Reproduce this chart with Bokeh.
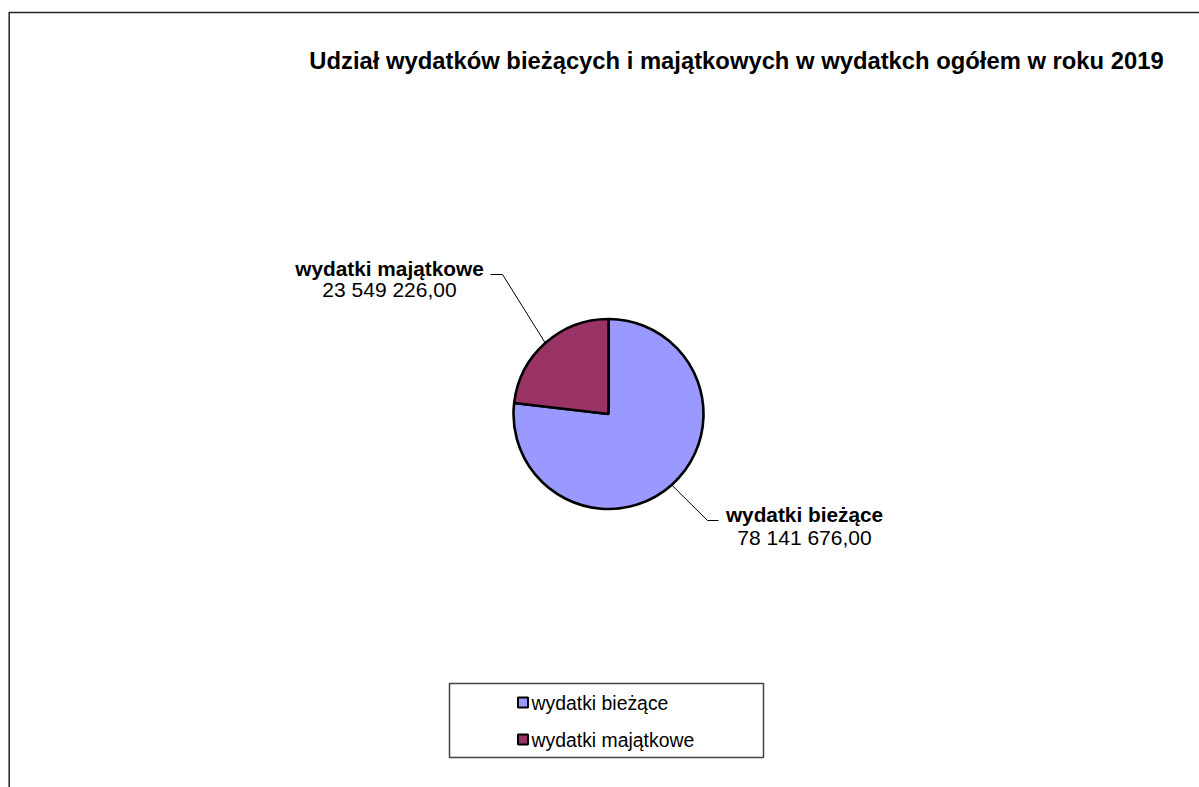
import math
from bokeh.plotting import figure
from bokeh.models import Range1d, ColumnDataSource
from bokeh.core.properties import value
from bokeh.embed import file_html
from bokeh.resources import INLINE

# ---- data ----
title_text = "Udział wydatków bieżących i majątkowych w wydatkch ogółem w roku 2019"
categories = ["wydatki bieżące", "wydatki majątkowe"]
amounts = [78141676.00, 23549226.00]
amount_labels = ["78 141 676,00", "23 549 226,00"]
colors = ["#9999FF", "#993366"]

W, H = 1199, 787
FONT = "Liberation Sans"

def X(px):
    return px

def Y(py):
    return H - py

p = figure(width=W, height=H, output_backend="svg", toolbar_location=None,
           x_range=Range1d(0, W), y_range=Range1d(0, H),
           min_border=0, outline_line_color=None)
p.axis.visible = False
p.grid.visible = False
p.background_fill_color = "white"
p.border_fill_color = "white"

# chart frame (left & top edges visible)
p.line(x=[X(8.7), X(8.7), W + 5], y=[-5, Y(12), Y(12)], line_color="#222222", line_width=1.5)

# title
p.text(x=[X(736)], y=[Y(60)], text=[title_text], text_font=value(FONT),
       text_font_style="bold", text_font_size="23.8px", text_align="center",
       text_baseline="middle", text_color="black")

# pie
cx, cy, r = X(608), Y(413.5), 95
total = sum(amounts)
starts, ends, mids = [], [], []
acc = 0.0
for a in amounts:
    s = math.pi / 2 - 2 * math.pi * acc / total
    acc += a
    e = math.pi / 2 - 2 * math.pi * acc / total
    starts.append(s)
    ends.append(e)
    mids.append((s + e) / 2)

src = ColumnDataSource(dict(cat=categories, start=starts, end=ends, color=colors))
p.wedge(x=cx, y=cy, radius=r, start_angle="start", end_angle="end", direction="clock",
        fill_color="color", line_color="black", line_width=2.6, source=src)

# leader lines and data labels
elbows = [((X(707), Y(520)), (X(718), Y(520))), ((X(502), Y(274)), (X(490), Y(274)))]
label_pos = [(X(804), Y(514), Y(537)), (X(389), Y(268), Y(289))]
for i in range(len(categories)):
    ex = cx + r * math.cos(mids[i])
    ey = cy + r * math.sin(mids[i])
    (bx, by), (tx, ty) = elbows[i]
    p.line(x=[ex, bx, tx], y=[ey, by, ty], line_color="black", line_width=1)
    lx, ly1, ly2 = label_pos[i]
    p.text(x=[lx], y=[ly1], text=[categories[i]], text_font=value(FONT),
           text_font_style="bold", text_font_size="20.8px", text_align="center",
           text_baseline="middle", text_color="black")
    p.text(x=[lx], y=[ly2], text=[amount_labels[i]], text_font=value(FONT),
           text_font_size="21px", text_align="center",
           text_baseline="middle", text_color="black")

# legend box
lx0, lx1, ly0, ly1 = X(449), X(763), Y(683), Y(757)
p.quad(left=[lx0], right=[lx1], top=[ly0], bottom=[ly1], fill_color="white",
       line_color="#444444", line_width=1.5)
rows = [Y(702), Y(739)]
for i in range(len(categories)):
    p.rect(x=[X(522.5)], y=[rows[i]], width=10, height=10, fill_color=colors[i],
           line_color="black", line_width=2)
    p.text(x=[X(531)], y=[rows[i]], text=[categories[i]], text_font=value(FONT),
           text_font_size="19.4px", text_align="left", text_baseline="middle",
           text_color="black")

open("out.html", "w").write(file_html(p, INLINE))
